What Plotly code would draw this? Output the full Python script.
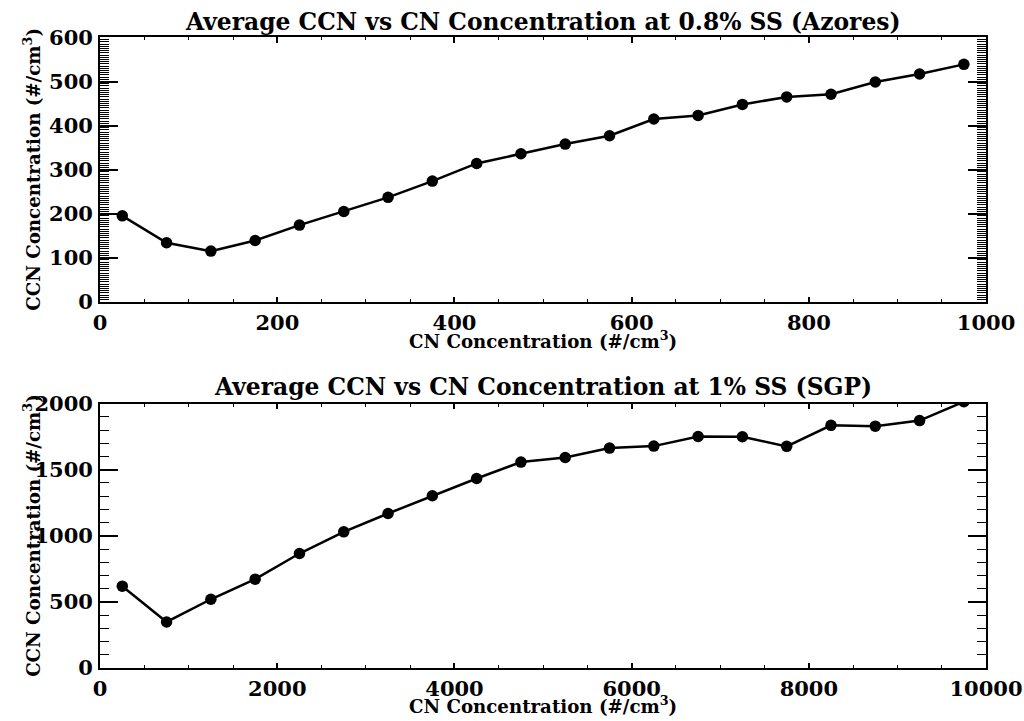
import plotly.graph_objects as go

# Azores, 0.8% supersaturation: CN bin centres and mean CCN
azores_cn = [25, 75, 125, 175, 225, 275, 325, 375, 425, 475,
             525, 575, 625, 675, 725, 775, 825, 875, 925, 975]
azores_ccn = [195, 134, 115, 139, 174, 205, 237, 274, 314, 336,
              358, 377, 415, 423, 448, 465, 471, 499, 517, 539]

# SGP, 1% supersaturation: CN bin centres and mean CCN
sgp_cn = [250, 750, 1250, 1750, 2250, 2750, 3250, 3750, 4250, 4750,
          5250, 5750, 6250, 6750, 7250, 7750, 8250, 8750, 9250, 9750]
sgp_ccn = [619, 348, 520, 672, 866, 1030, 1169, 1303, 1434, 1558,
           1593, 1664, 1679, 1752, 1750, 1677, 1836, 1830, 1872, 2015]

titles = ["Average CCN vs CN Concentration at 0.8% SS (Azores)",
          "Average CCN vs CN Concentration at 1% SS (SGP)"]
x_title = "CN Concentration (#/cm<sup>3</sup>)"
y_title = "CCN Concentration (#/cm<sup>3</sup>)"

W, H = 1060, 740
FONT = "DejaVu Serif"

# Screen placement: the page is displayed scaled and offset, so positions
# below are written in screen pixels and converted to figure pixels.
SX, OX = 0.957, 8.0
SY, OY = 0.967, 10.5


def fx(p):
    return (p - OX) / SX


def fy(p):
    return (p - OY) / SY


def px(p):
    return fx(p) / W


def py(p):
    return (H - fy(p)) / H


fig = go.Figure()

line = dict(color="black", width=2.5)
marker = dict(color="black", size=11.5, symbol="circle")

fig.add_trace(go.Scatter(x=azores_cn, y=azores_ccn, mode="lines+markers",
                         line=line, marker=marker, xaxis="x", yaxis="y",
                         showlegend=False))
fig.add_trace(go.Scatter(x=sgp_cn, y=sgp_ccn, mode="lines+markers",
                         line=line, marker=marker, xaxis="x2", yaxis="y2",
                         showlegend=False))

x0, x1 = px(101), px(985.5)
top_dom = [py(299.5), py(35)]
bot_dom = [py(666), py(401.5)]

tickfont = dict(family=FONT, size=21, color="black", weight="bold")


def xaxis(rng, dtick, minor, anchor):
    return dict(domain=[x0, x1], range=rng, dtick=dtick, tick0=0,
                tickformat="d",
                ticks="inside", ticklen=5.2, tickwidth=1.5,
                tickcolor="black",
                minor=dict(dtick=minor, ticks="inside", ticklen=3,
                           tickwidth=1.2, tickcolor="black"),
                showline=True, linecolor="black", linewidth=2,
                mirror="allticks", showgrid=False, zeroline=False,
                tickfont=tickfont, ticklabelstandoff=1, anchor=anchor)


def yaxis(rng, dtick, minor, dom, anchor):
    return dict(domain=dom, range=rng, dtick=dtick, tick0=0,
                tickformat="d",
                ticks="inside", ticklen=17.8, tickwidth=1.5,
                tickcolor="black",
                minor=dict(dtick=minor, ticks="inside", ticklen=8.9,
                           tickwidth=1.2, tickcolor="black"),
                showline=True, linecolor="black", linewidth=2,
                mirror="allticks", showgrid=False, zeroline=False,
                tickfont=tickfont, ticklabelstandoff=1, anchor=anchor)


fig.update_layout(
    width=W, height=H,
    margin=dict(l=0, r=0, t=0, b=0),
    paper_bgcolor="white", plot_bgcolor="white",
    xaxis=xaxis([0, 1000], 200, 50, "y"),
    yaxis=yaxis([0, 600], 100, 5, top_dom, "x"),
    xaxis2=xaxis([0, 10000], 2000, 500, "y2"),
    yaxis2=yaxis([0, 2000], 500, 100, bot_dom, "x2"),
)

title_font = dict(family=FONT, size=23.4, color="black", weight="bold")
label_font = dict(family=FONT, size=18.2, color="black", weight="bold")
ann = []
for (ytitle, yxlab, dom), title in zip(
        [(19.5, 338, top_dom), (385, 703.5, bot_dom)], titles):
    ann.append(dict(text=title, x=(x0 + x1) / 2, y=py(ytitle),
                    xref="paper", yref="paper", xanchor="center",
                    yanchor="middle", showarrow=False, font=title_font))
    ann.append(dict(text=x_title, x=px(543), y=py(yxlab),
                    xref="paper", yref="paper", xanchor="center",
                    yanchor="middle", showarrow=False, font=label_font))
    ann.append(dict(text=y_title, x=px(33),
                    y=(dom[0] + dom[1]) / 2, xref="paper", yref="paper",
                    xanchor="center", yanchor="middle", textangle=-90,
                    showarrow=False, font=label_font))
fig.update_layout(annotations=ann)

# Let the figure sit flush in the window: no body margin, no scrollbars.
page_css = ("document.documentElement.style.overflow='hidden';"
            "document.body.style.margin='0';"
            "document.body.style.overflow='hidden';")

fig.write_html("out.html", post_script=page_css)
